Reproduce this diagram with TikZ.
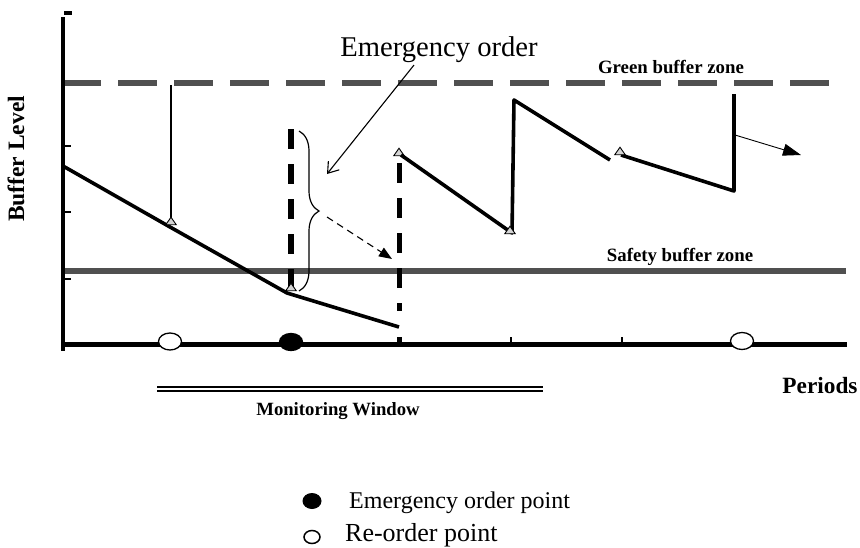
\documentclass[tikz,border=0pt]{standalone}
\usepackage{fontspec}
\setmainfont{Liberation Serif}
\usetikzlibrary{arrows.meta,decorations.pathreplacing,shapes.geometric}

\definecolor{zonegray}{HTML}{505050}
\definecolor{markgray}{HTML}{D4D4D4}

\tikzset{
  axisline/.style={line width=5pt,black},
  levelline/.style={line width=3.6pt,black,line join=round},
  zoneline/.style={line width=6pt,zonegray},
  greenzone/.style={zoneline,dash pattern=on 39pt off 17pt},
  emdash/.style={line width=5.5pt,black,dash pattern=on 20pt off 15pt},
  trimark/.style={draw=black,fill=markgray,line width=0.9pt,isosceles triangle,
    isosceles triangle apex angle=70,shape border rotate=90,inner sep=0pt,
    minimum height=7.5pt,minimum width=8.5pt},
  period/.style={draw=black,line width=1.3pt,ellipse,minimum width=23pt,minimum height=17pt,inner sep=0pt},
  zonelabel/.style={font=\bfseries\fontsize{18.8}{20}\selectfont,anchor=base,inner sep=0pt},
}

\begin{document}
\begin{tikzpicture}[x=1pt,y=-1pt]
\useasboundingbox (0,0) rectangle (860,547);

% zone lines
\draw[greenzone] (62,82.5) -- (832,82.5);
\draw[zoneline] (63,271) -- (846,271);
\node[zonelabel] (green) at (671,73) {Green buffer zone};
\node[zonelabel] (safety) at (680,261) {Safety buffer zone};

% axes
\coordinate (ytop) at (63,17);
\coordinate (ybot) at (63,351);
\coordinate (xleft) at (61,344.5);
\coordinate (xright) at (847,344.5);
\draw[line width=4pt] (ytop) -- (ybot);
\fill (64,11) rectangle (72,15);
\draw[axisline] (xleft) -- (xright);
\foreach \yy in {146,212,279} \draw[line width=2pt] (63,\yy) -- (71,\yy);
\foreach \xx in {511,622} \draw[line width=2.4pt] (\xx,344) -- (\xx,337);

% buffer level before the emergency order
\coordinate (p0) at (63,166);
\coordinate (p1) at (170,227);
\coordinate (p2) at (287,293);
\coordinate (p3) at (399,327);
\draw[levelline] (p0) -- (p1) -- (p2) -- (p3);

% re-order replenishment to the green zone
\coordinate (r1top) at (171,85);
\coordinate (r1bot) at (171,222);
\draw[line width=2.3pt] (r1top) -- (r1bot);
\node[trimark] (t1) at (r1bot) {};

% emergency order line and brace
\draw[emdash] (291,129) -- (291,291);
\node[trimark] (t2) at (291,288) {};
\draw[line width=1.2pt,decorate,decoration={brace,amplitude=20pt,aspect=0.5}] (299,131) -- (299,291);
\coordinate (bracetip) at (327,217);

% dash-dot line at the end of the monitoring window
\draw[line width=5pt,black,dash pattern=on 20pt off 15pt on 20pt off 15pt on 20pt off 15pt on 20pt off 15pt on 8pt off 26pt on 7pt]
  (399,163) -- (399,345);
\node[trimark] (t3) at (399,153) {};

% buffer level after replenishment
\coordinate (q0) at (401,155);
\coordinate (q1) at (512,233);
\coordinate (q2) at (514,100);
\coordinate (q3) at (610,160);
\draw[levelline] (q0) -- (q1) -- (q2) -- (q3);
\node[trimark] (t4) at (510,231) {};

\coordinate (s0) at (621,155);
\coordinate (s1) at (734,191);
\coordinate (s2) at (734,94);
\draw[levelline] (s0) -- (s1) -- (s2);
\node[trimark] (t5) at (620,152) {};

% trend arrow
\coordinate (trend0) at (735,135);
\coordinate (trend1) at (801,155);
\draw[line width=0.9pt,-{Triangle[length=18pt,width=12pt]}] (trend0) -- (trend1);

% emergency order label and pointers
\node[font=\fontsize{28.6}{30}\selectfont,anchor=base,inner sep=0pt] (em) at (439,56) {Emergency order};
\coordinate (emfrom) at (414,65);
\coordinate (emto) at (327,174);
\draw[line width=1.1pt,-{Straight Barb[length=10pt,width=14pt,line width=1.1pt]}] (emfrom) -- (emto);
\coordinate (dashto) at (392,259);
\draw[line width=1.1pt,dash pattern=on 7pt off 5pt,-{Triangle[length=13pt,width=10pt]}] (bracetip) -- (dashto);

% order points on the time axis
\node[period,fill=white] (re1) at (170,341.5) {};
\node[period,fill=black] (emp) at (291,342) {};
\node[period,fill=white] (re2) at (742,341) {};

% monitoring window
\draw[line width=1.4pt,double distance=2.6pt] (157,389) -- (543,389);
\node[font=\bfseries\fontsize{18.7}{20}\selectfont,anchor=base,inner sep=0pt] (mw) at (338,415) {Monitoring Window};

% axis titles
\node[font=\bfseries\fontsize{23.3}{25}\selectfont,anchor=base,inner sep=0pt] (per) at (820,393) {Periods};
\node[font=\bfseries\fontsize{23.5}{25}\selectfont,anchor=base,rotate=90,inner sep=0pt] (bl) at (24,159) {Buffer Level};

% legend
\node[ellipse,fill=black,minimum width=19pt,minimum height=16pt,inner sep=0pt] (legem) at (312,501) {};
\node[font=\fontsize{24}{26}\selectfont,anchor=base west,inner sep=0pt] (legemt) at (349,508) {Emergency order point};
\node[ellipse,draw=black,line width=1.5pt,minimum width=16pt,minimum height=13pt,inner sep=0pt] (legre) at (312,537) {};
\node[font=\fontsize{26}{28}\selectfont,anchor=base west,inner sep=0pt] (legret) at (345,541) {Re-order point};
\end{tikzpicture}
\end{document}
